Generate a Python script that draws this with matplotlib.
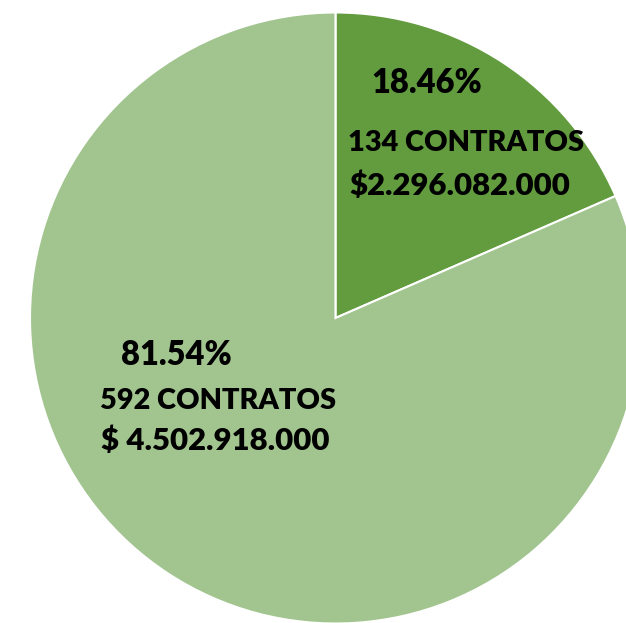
import matplotlib
matplotlib.use("Agg")
import matplotlib.pyplot as plt

# Data
shares = [18.46, 81.54]
contracts = [134, 592]
amounts = ["$2.296.082.000", "$ 4.502.918.000"]
colors = ["#629c3f", "#a2c590"]

W, H = 626, 623
fig = plt.figure(figsize=(W / 100, H / 100), dpi=100)
ax = fig.add_axes([0, 0, 1, 1])

cx, cy, r = 335.5, H - 318, 305.5
ax.pie(shares, colors=colors, startangle=90, counterclock=False,
       center=(cx, cy), radius=r, frame=True,
       wedgeprops=dict(edgecolor="white", linewidth=1.5))
ax.set_xlim(0, W)
ax.set_ylim(0, H)
ax.set_aspect("equal")
ax.axis("off")

font = dict(family=["Lato", "DejaVu Sans"], fontweight="heavy", color="black")

# small slice labels
ax.text(427, H - 83, f"{shares[0]:.2f}%", ha="center", va="center", fontsize=23.5, **font)
ax.text(348, H - 143, f"{contracts[0]} CONTRATOS", ha="left", va="center", fontsize=20.8, **font)
ax.text(349, H - 186, amounts[0], ha="left", va="center", fontsize=22.4, **font)

# large slice labels
ax.text(176, H - 355, f"{shares[1]:.2f}%", ha="center", va="center", fontsize=23.5, **font)
ax.text(100, H - 401, f"{contracts[1]} CONTRATOS", ha="left", va="center", fontsize=20.8, **font)
ax.text(101, H - 441, amounts[1], ha="left", va="center", fontsize=22.4, **font)

fig.savefig("out.png", dpi=100)
